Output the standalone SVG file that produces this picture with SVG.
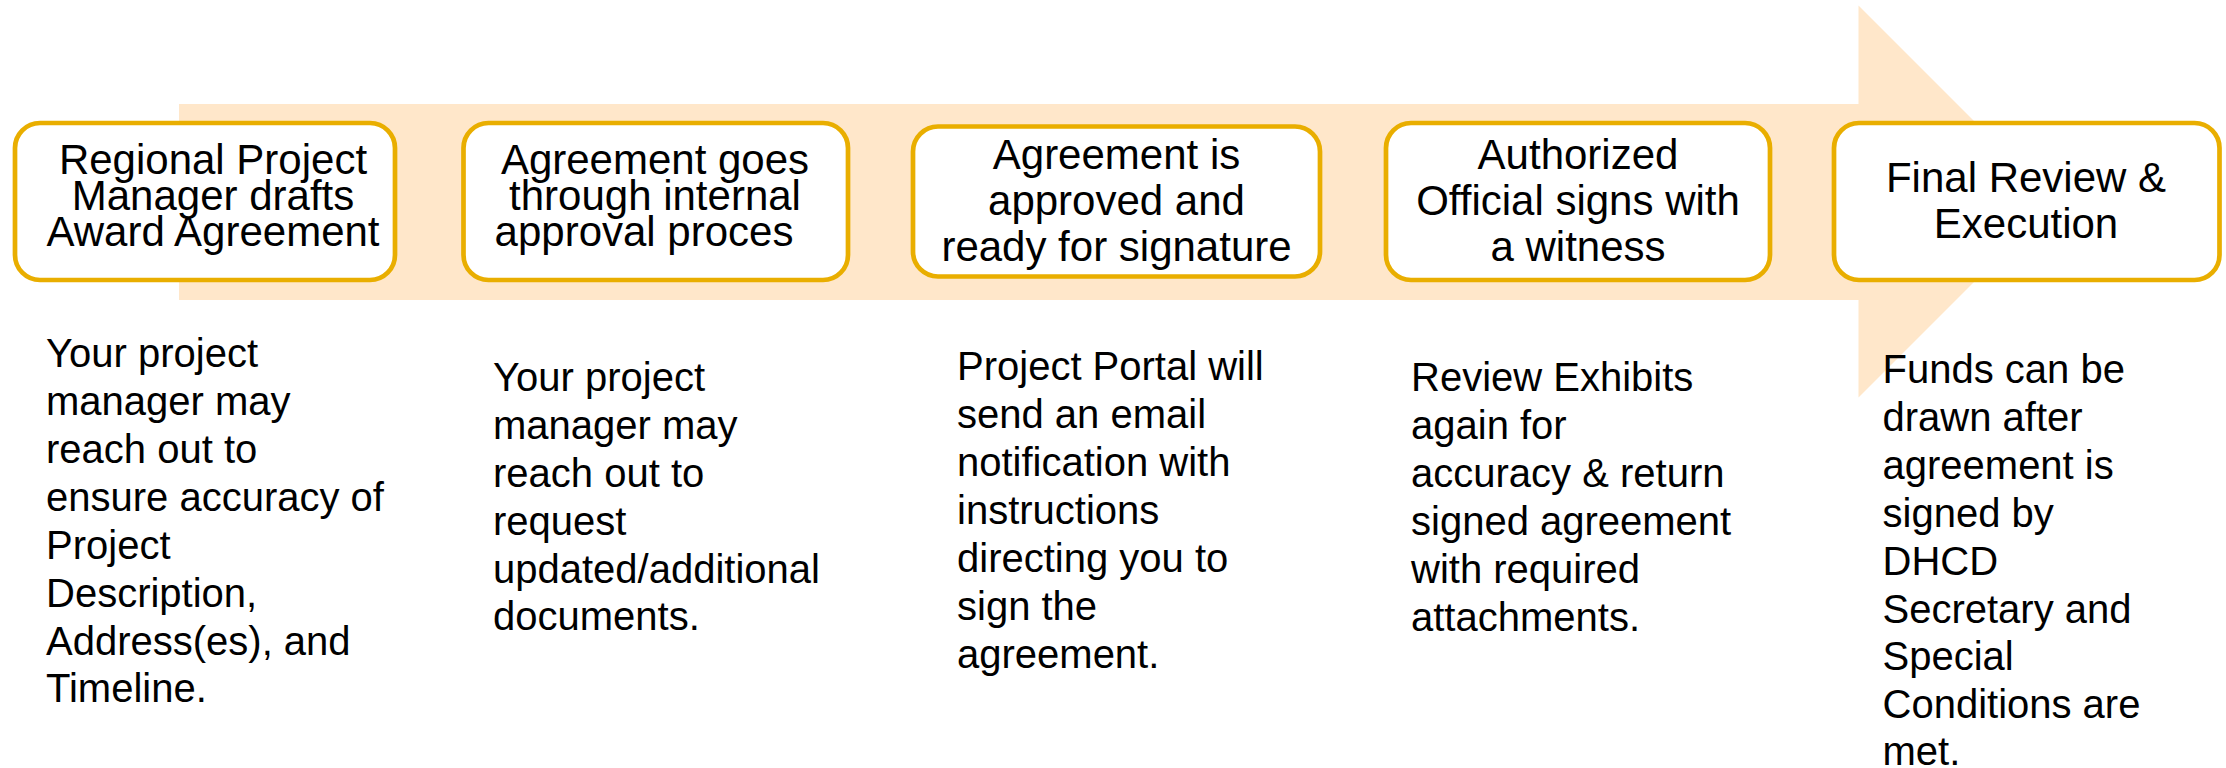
<svg xmlns="http://www.w3.org/2000/svg" width="2226" height="768" viewBox="0 0 2226 768">
<style>
.box{fill:#FFFFFF;stroke:#E9AE00;stroke-width:4.7}
.t{font-family:"Liberation Sans",Arial,sans-serif;fill:#000000}
.bt{font-size:42px;text-anchor:middle}
.dt{font-size:40px}
</style>
<rect width="2226" height="768" fill="#FFFFFF"/>
<g id="arrow">
<polygon points="179,104 1858.5,104 1858.5,5.5 2054.5,201.5 1858.5,397.5 1858.5,300 179,300" fill="#FFE7CA"/>
</g>
<g id="connectors"></g>
<g id="node1">
<rect class="box" x="15" y="123" width="380" height="157" rx="25"/>
<text class="t bt"><tspan x="213" y="174">Regional Project</tspan><tspan x="213" y="210">Manager drafts</tspan><tspan x="213" y="246">Award Agreement</tspan></text>
</g>
<g id="node2">
<rect class="box" x="463.5" y="123" width="384.5" height="157" rx="25"/>
<text class="t bt"><tspan x="655" y="174">Agreement goes</tspan><tspan x="655" y="210">through internal</tspan><tspan x="644" y="246">approval proces</tspan></text>
</g>
<g id="node3">
<rect class="box" x="913" y="126.5" width="407" height="150" rx="25"/>
<text class="t bt"><tspan x="1116.5" y="168.5">Agreement is</tspan><tspan x="1116.5" y="215">approved and</tspan><tspan x="1116.5" y="260.5">ready for signature</tspan></text>
</g>
<g id="node4">
<rect class="box" x="1386" y="123" width="384" height="157" rx="25"/>
<text class="t bt"><tspan x="1578" y="169">Authorized</tspan><tspan x="1578" y="215">Official signs with</tspan><tspan x="1578" y="260.5">a witness</tspan></text>
</g>
<g id="node5">
<rect class="box" x="1834" y="123" width="385.5" height="157" rx="25"/>
<text class="t bt"><tspan x="2026" y="191.5">Final Review &amp;</tspan><tspan x="2026" y="237.5">Execution</tspan></text>
</g>
<g id="desc1">
<text class="t dt"><tspan x="46" y="366.5">Your project</tspan><tspan x="46" y="414.5">manager may</tspan><tspan x="46" y="462.5">reach out to</tspan><tspan x="46" y="510.5">ensure accuracy of</tspan><tspan x="46" y="558.5">Project</tspan><tspan x="46" y="606.5">Description,</tspan><tspan x="46" y="654.5">Address(es), and</tspan><tspan x="46" y="702">Timeline.</tspan></text>
</g>
<g id="desc2">
<text class="t dt"><tspan x="493" y="390.5">Your project</tspan><tspan x="493" y="438.5">manager may</tspan><tspan x="493" y="486.5">reach out to</tspan><tspan x="493" y="534.5">request</tspan><tspan x="493" y="582.5">updated/additional</tspan><tspan x="493" y="629.5">documents.</tspan></text>
</g>
<g id="desc3">
<text class="t dt"><tspan x="957" y="380">Project Portal will</tspan><tspan x="957" y="428">send an email</tspan><tspan x="957" y="476">notification with</tspan><tspan x="957" y="524">instructions</tspan><tspan x="957" y="572">directing you to</tspan><tspan x="957" y="620">sign the</tspan><tspan x="957" y="667.5">agreement.</tspan></text>
</g>
<g id="desc4">
<text class="t dt"><tspan x="1411" y="391">Review Exhibits</tspan><tspan x="1411" y="439">again for</tspan><tspan x="1411" y="487">accuracy &amp; return</tspan><tspan x="1411" y="535">signed agreement</tspan><tspan x="1411" y="583">with required</tspan><tspan x="1411" y="630.5">attachments.</tspan></text>
</g>
<g id="desc5">
<text class="t dt"><tspan x="1882.5" y="382.5">Funds can be</tspan><tspan x="1882.5" y="430.5">drawn after</tspan><tspan x="1882.5" y="478.5">agreement is</tspan><tspan x="1882.5" y="526.5">signed by</tspan><tspan x="1882.5" y="574.5">DHCD</tspan><tspan x="1882.5" y="622.5">Secretary and</tspan><tspan x="1882.5" y="670">Special</tspan><tspan x="1882.5" y="717.5">Conditions are</tspan><tspan x="1882.5" y="765">met.</tspan></text>
</g>
</svg>
